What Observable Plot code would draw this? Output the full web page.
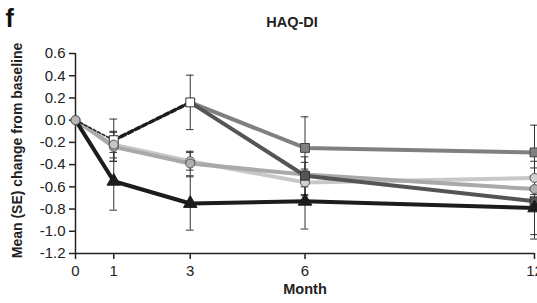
<!DOCTYPE html>
<html><head><meta charset="utf-8">
<script src="https://cdn.jsdelivr.net/npm/d3@7"></script>
<script src="https://cdn.jsdelivr.net/npm/@observablehq/plot@0.6"></script>
<style>body{margin:0;background:#fff}</style>
</head><body><div id="chart"></div>
<script>
// ---- data ----
const monthTicks = [0, 1, 3, 6, 12];
const yTicks = [0.6, 0.4, 0.2, 0.0, -0.2, -0.4, -0.6, -0.8, -1.0, -1.2];

const placeboMonths = [0, 1, 3];
const placeboMean   = [0, -0.18, 0.16];
const placeboSE     = [0, 0.19, 0.245];

const armAMonths = [3, 6, 12];
const armAMean   = [0.16, -0.25, -0.29];
const armASE     = [0, 0.28, 0.245];

const armBMonths = [3, 6, 12];
const armBMean   = [0.16, -0.50, -0.73];
const armBSE     = [0, 0.17, 0.30];

const triMonths = [0, 1, 3, 6, 12];
const triMean   = [0, -0.55, -0.75, -0.73, -0.79];
const triSE     = [0, 0.26, 0.24, 0.25, 0.28];

const lightMonths = [0, 1, 3, 6, 12];
const lightMean   = [0, -0.22, -0.37, -0.56, -0.52];
const lightSE     = [0, 0.12, 0.08, 0.12, 0.15];

const midMonths = [0, 1, 3, 6, 12];
const midMean   = [0, -0.24, -0.39, -0.49, -0.62];
const midSE     = [0, 0.13, 0.11, 0.11, 0.12];

const rows = (months, mean, se) => months.map((m, i) => ({month: m, mean: mean[i], lo: mean[i] - se[i], hi: mean[i] + se[i]}));
const placebo = rows(placeboMonths, placeboMean, placeboSE);
const armA = rows(armAMonths, armAMean, armASE);
const armB = rows(armBMonths, armBMean, armBSE);
const tri = rows(triMonths, triMean, triSE);
const light = rows(lightMonths, lightMean, lightSE);
const mid = rows(midMonths, midMean, midSE);

const errMarks = (data) => [
  Plot.ruleX(data.filter(d => d.hi !== d.lo), {x: "month", y1: "lo", y2: "hi", stroke: "#333", strokeWidth: 1}),
  Plot.ruleY(data.filter(d => d.hi !== d.lo), {y: "lo", x1: d => d.month - 0.1, x2: d => d.month + 0.1, stroke: "#333", strokeWidth: 1}),
  Plot.ruleY(data.filter(d => d.hi !== d.lo), {y: "hi", x1: d => d.month - 0.1, x2: d => d.month + 0.1, stroke: "#333", strokeWidth: 1})
];

const chart = Plot.plot({
  width: 537, height: 303,
  marginLeft: 75, marginRight: 3, marginTop: 53, marginBottom: 50,
  x: {domain: [0, 12]},
  y: {domain: [-1.2, 0.6]},
  style: {fontFamily: "'Liberation Sans', Arial, sans-serif", fontSize: "13px", color: "#222", background: "#fff", overflow: "visible"},
  marks: [
    Plot.axisY({ticks: yTicks, tickFormat: d => d.toFixed(1), tickSize: 6, tickPadding: 4, label: null, strokeWidth: 1.5, fontSize: 15}),
    Plot.axisX({ticks: monthTicks, tickFormat: d => String(d), tickSize: 6, tickPadding: 6, label: null, strokeWidth: 1.5, fontSize: 15}),
    Plot.ruleX([0], {stroke: "#222", strokeWidth: 1.5}),
    Plot.ruleY([-1.2], {stroke: "#222", strokeWidth: 1.5}),
    // lines
    Plot.line(light, {x: "month", y: "mean", stroke: "#c8c8c8", strokeWidth: 4}),
    Plot.line(mid, {x: "month", y: "mean", stroke: "#a9a9a9", strokeWidth: 4}),
    Plot.line(armA, {x: "month", y: "mean", stroke: "#808080", strokeWidth: 4}),
    Plot.line(armB, {x: "month", y: "mean", stroke: "#555", strokeWidth: 4}),
    Plot.line(tri, {x: "month", y: "mean", stroke: "#1c1c1c", strokeWidth: 4}),
    Plot.line(placebo.filter(d => d.month <= 1), {x: "month", y: "mean", stroke: "#1c1c1c", strokeWidth: 1.5, strokeDasharray: "3,2"}),
    Plot.line(placebo.filter(d => d.month >= 1), {x: "month", y: "mean", stroke: "#1c1c1c", strokeWidth: 3.5, strokeDasharray: "5,3"}),
    // error bars
    ...errMarks(light), ...errMarks(mid), ...errMarks(armA), ...errMarks(armB), ...errMarks(tri), ...errMarks(placebo),
    // markers
    Plot.dot(light, {x: "month", y: "mean", symbol: "circle", r: 4.5, fill: "#d0d0d0", stroke: "#555", strokeWidth: 1}),
    Plot.dot(mid.filter(d => d.month > 0), {x: "month", y: "mean", symbol: "circle", r: 4.5, fill: "#b0b0b0", stroke: "#555", strokeWidth: 1}),
    Plot.dot(armA.filter(d => d.month > 3), {x: "month", y: "mean", symbol: "square", r: 5, fill: "#808080", stroke: "#444", strokeWidth: 1}),
    Plot.dot(armB.filter(d => d.month > 3), {x: "month", y: "mean", symbol: "square", r: 5, fill: "#555", stroke: "#333", strokeWidth: 1}),
    Plot.dot(tri.filter(d => d.month > 0), {x: "month", y: "mean", symbol: "triangle", r: 5, fill: "#1c1c1c", stroke: "#1c1c1c", strokeWidth: 1}),
    Plot.dot(placebo.filter(d => d.month > 0), {x: "month", y: "mean", symbol: "square", r: 5, fill: "#fff", stroke: "#333", strokeWidth: 1}),
    Plot.dot(light.filter(d => d.month === 1), {x: "month", y: "mean", symbol: "circle", r: 4.5, fill: "#c4c4c4", stroke: "#555", strokeWidth: 1}),
    Plot.dot(light.filter(d => d.month === 0), {x: "month", y: "mean", symbol: "circle", r: 4.5, fill: "#b8b8b8", stroke: "#555", strokeWidth: 1}),
    // texts
    Plot.text(["Mean (SE) change from baseline"], {frameAnchor: "left", textAnchor: "middle", rotate: -90, dx: -58, dy: -3, fontWeight: "bold", fontSize: 14, fill: "#222"}),
    Plot.text(["Month"], {frameAnchor: "bottom", dy: 40, fontWeight: "bold", fontSize: 14.5, fill: "#222"}),
    Plot.text(["HAQ-DI"], {frameAnchor: "top", dx: -13, dy: -37, fontWeight: "bold", fontSize: 14.5, fill: "#222"}),
    Plot.text(["f"], {frameAnchor: "top-left", dx: -70, dy: -44, textAnchor: "start", fontWeight: "bold", fontSize: 25, fill: "#111"})
  ]
});
document.getElementById("chart").appendChild(chart);
</script>
</body></html>
